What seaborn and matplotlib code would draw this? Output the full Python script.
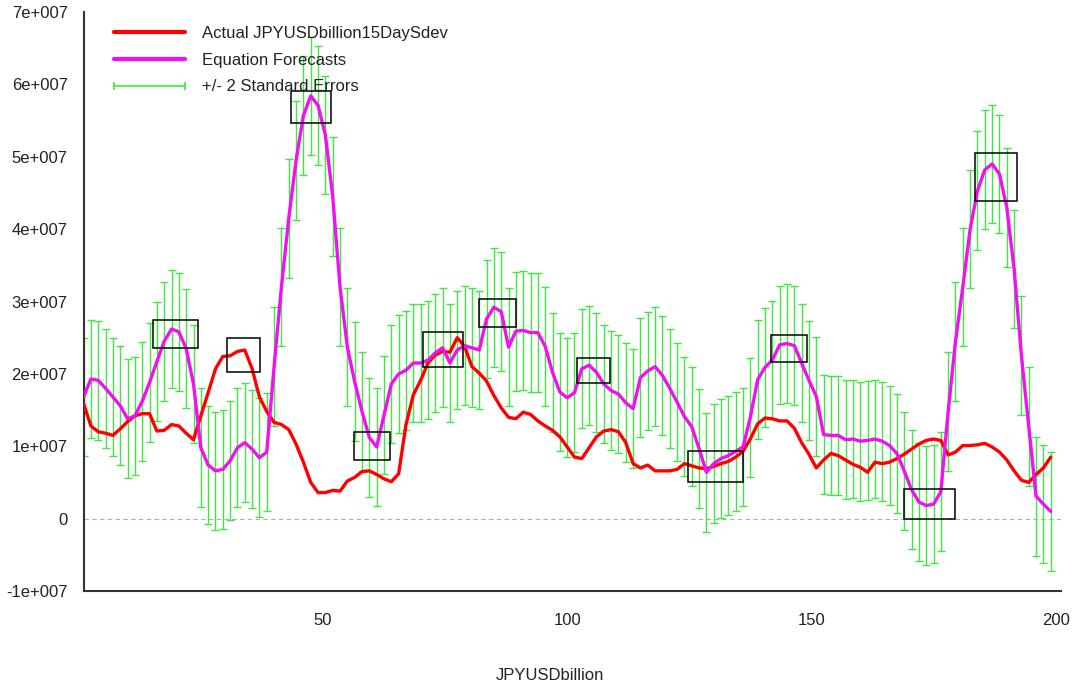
import numpy as np
import pandas as pd
import matplotlib
matplotlib.use("Agg")
import matplotlib.pyplot as plt
from matplotlib.lines import Line2D
from matplotlib.patches import Rectangle
import seaborn as sns

# ---------------- data (values in units of 1e7) ----------------
x_start = 1.0
x_step = 1.5

forecast = [
    1.68, 1.93, 1.91, 1.80, 1.68, 1.56, 1.38, 1.42, 1.62, 1.88,
    2.17, 2.45, 2.62, 2.58, 2.35, 1.86, 0.98, 0.74, 0.66, 0.68,
    0.80, 0.98, 1.05, 0.96, 0.84, 0.92, 2.10, 3.20, 4.15, 4.95,
    5.57, 5.84, 5.71, 5.30, 4.45, 3.20, 2.37, 1.89, 1.48, 1.12,
    0.99, 1.43, 1.86, 2.00, 2.05, 2.15, 2.15, 2.19, 2.29, 2.36,
    2.15, 2.33, 2.39, 2.36, 2.33, 2.76, 2.92, 2.86, 2.37, 2.59,
    2.60, 2.57, 2.57, 2.38, 2.02, 1.75, 1.67, 1.74, 2.07, 2.12,
    2.02, 1.86, 1.77, 1.72, 1.60, 1.52, 1.95, 2.04, 2.10, 1.98,
    1.80, 1.61, 1.41, 1.27, 0.97, 0.64, 0.76, 0.83, 0.87, 0.93,
    0.99, 1.40, 1.92, 2.09, 2.19, 2.40, 2.42, 2.39, 2.15, 1.91,
    1.69, 1.16, 1.15, 1.15, 1.09, 1.10, 1.07, 1.08, 1.10, 1.07,
    1.01, 0.90, 0.66, 0.40, 0.23, 0.18, 0.20, 0.37, 1.48, 2.45,
    3.20, 4.00, 4.53, 4.82, 4.90, 4.76, 4.30, 3.45, 2.25, 1.27,
    0.31, 0.20, 0.10,
]

actual = [
    1.59, 1.28, 1.20, 1.18, 1.15, 1.24, 1.34, 1.42, 1.45, 1.45,
    1.21, 1.22, 1.30, 1.28, 1.18, 1.09, 1.42, 1.74, 2.07, 2.24,
    2.25, 2.31, 2.33, 2.07, 1.68, 1.48, 1.33, 1.30, 1.23, 1.03,
    0.78, 0.50, 0.36, 0.36, 0.39, 0.38, 0.52, 0.57, 0.65, 0.66,
    0.61, 0.55, 0.51, 0.62, 1.30, 1.71, 1.91, 2.15, 2.26, 2.31,
    2.30, 2.50, 2.38, 2.10, 2.01, 1.90, 1.70, 1.53, 1.40, 1.38,
    1.47, 1.44, 1.35, 1.28, 1.22, 1.13, 0.99, 0.85, 0.83, 0.98,
    1.13, 1.21, 1.23, 1.20, 1.05, 0.76, 0.70, 0.74, 0.66, 0.66,
    0.66, 0.68, 0.76, 0.73, 0.70, 0.69, 0.72, 0.76, 0.79, 0.85,
    0.93, 1.10, 1.31, 1.39, 1.38, 1.35, 1.35, 1.25, 1.05, 0.89,
    0.70, 0.81, 0.90, 0.87, 0.81, 0.75, 0.71, 0.64, 0.78, 0.76,
    0.78, 0.83, 0.89, 0.96, 1.03, 1.08, 1.10, 1.08, 0.88, 0.92,
    1.01, 1.01, 1.02, 1.04, 0.99, 0.92, 0.81, 0.66, 0.53, 0.50,
    0.61, 0.70, 0.85,
]

two_se = 0.82  # +/- 2 standard errors, units of 1e7
scale = 1e7

# highlighted boxes: (x0, x1, y0, y1), y in units of 1e7
boxes = [
    (15.2, 24.4, 2.36, 2.75),
    (30.4, 37.1, 2.03, 2.50),
    (43.5, 51.7, 5.47, 5.91),
    (56.4, 63.7, 0.81, 1.20),
    (70.5, 78.7, 2.10, 2.58),
    (82.0, 89.5, 2.65, 3.04),
    (102.0, 108.8, 1.88, 2.22),
    (124.7, 136.0, 0.51, 0.94),
    (141.8, 149.2, 2.17, 2.54),
    (168.9, 179.3, -0.01, 0.41),
    (183.5, 192.1, 4.39, 5.05),
]

y_ticks = [-1, 0, 1, 2, 3, 4, 5, 6, 7]
y_tick_labels = ["-1e+007", "0", "1e+007", "2e+007", "3e+007", "4e+007",
                 "5e+007", "6e+007", "7e+007"]
x_ticks = [50, 100, 150, 200]
x_tick_labels = ["50", "100", "150", "200"]

labels = ["Actual JPYUSDbillion15DaySdev", "Equation Forecasts",
          "+/- 2 Standard Errors"]
x_label = "JPYUSDbillion"

# ---------------- build frame ----------------
n = len(forecast)
df = pd.DataFrame({
    "obs": x_start + x_step * np.arange(n),
    "actual": np.array(actual) * scale,
    "forecast": np.array(forecast) * scale,
})
df["err"] = two_se * scale

# ---------------- style ----------------
sns.set_style("white")
plt.rcParams["font.family"] = ["Liberation Sans", "DejaVu Sans"]
plt.rcParams["font.size"] = 12

RED = "#ff0000"
MAGENTA = "#f010f0"
GREEN = "#3ee83e"
FS = 12

fig = plt.figure(figsize=(10.72, 6.86), dpi=100)
W, H = 1072, 686
ax = fig.add_axes([83.6 / W, 95 / H, 977.4 / W, 579 / H])

# zero line
ax.axhline(0, color="#b0b0b0", lw=0.8, ls=(0, (4, 3)), zorder=1)

# error bars
ax.errorbar(df["obs"], df["forecast"], yerr=df["err"], fmt="none",
            ecolor=GREEN, elinewidth=1.0, capsize=2.6, capthick=1.0, zorder=2)

# lines
sns.lineplot(data=df, x="obs", y="actual", ax=ax, color=RED, lw=2.4,
             legend=False, zorder=3)
sns.lineplot(data=df, x="obs", y="forecast", ax=ax, color=MAGENTA, lw=2.4,
             legend=False, zorder=4)

# boxes
for (x0, x1, y0, y1) in boxes:
    ax.add_patch(Rectangle((x0, y0 * scale), x1 - x0, (y1 - y0) * scale,
                           fill=False, ec="black", lw=1.1, zorder=5))

ax.set_xlim(1, 201.1)
ax.set_ylim(-1e7, 7e7)
ax.set_yticks([v * scale for v in y_ticks])
ax.set_yticklabels(y_tick_labels)
ax.set_xticks(x_ticks)
ax.set_xticklabels(x_tick_labels)
ax.tick_params(axis="both", direction="in", length=5, width=1.2,
               color="#333333", labelsize=FS, labelcolor="#222222")
ax.tick_params(axis="x", pad=16)
ax.tick_params(axis="y", pad=11.5)

for s in ["top", "right"]:
    ax.spines[s].set_visible(False)
for s in ["left", "bottom"]:
    ax.spines[s].set_color("#333333")
    ax.spines[s].set_linewidth(1.5)

ax.set_xlabel(x_label, fontsize=FS, color="#222222")
ax.set_ylabel("")
ax.xaxis.set_label_coords((550 - 83.6) / 977.4, -(675 - 591) / 579)
ax.xaxis.label.set_verticalalignment("center")

handles = [
    Line2D([], [], color=RED, lw=3),
    Line2D([], [], color=MAGENTA, lw=3),
    Line2D([], [], color=GREEN, lw=1.2, marker="|", markersize=6,
           markeredgewidth=1.2),
]
ax.legend(handles, labels, loc="upper left",
          bbox_to_anchor=((109 - 83.6) / 977.4, (591 - 26) / 579),
          frameon=False, borderpad=0, borderaxespad=0, handlelength=4.85,
          handletextpad=0.75, labelspacing=0.7, numpoints=2, fontsize=FS,
          labelcolor="#222222")

fig.savefig("out.png", dpi=100, facecolor="white")
